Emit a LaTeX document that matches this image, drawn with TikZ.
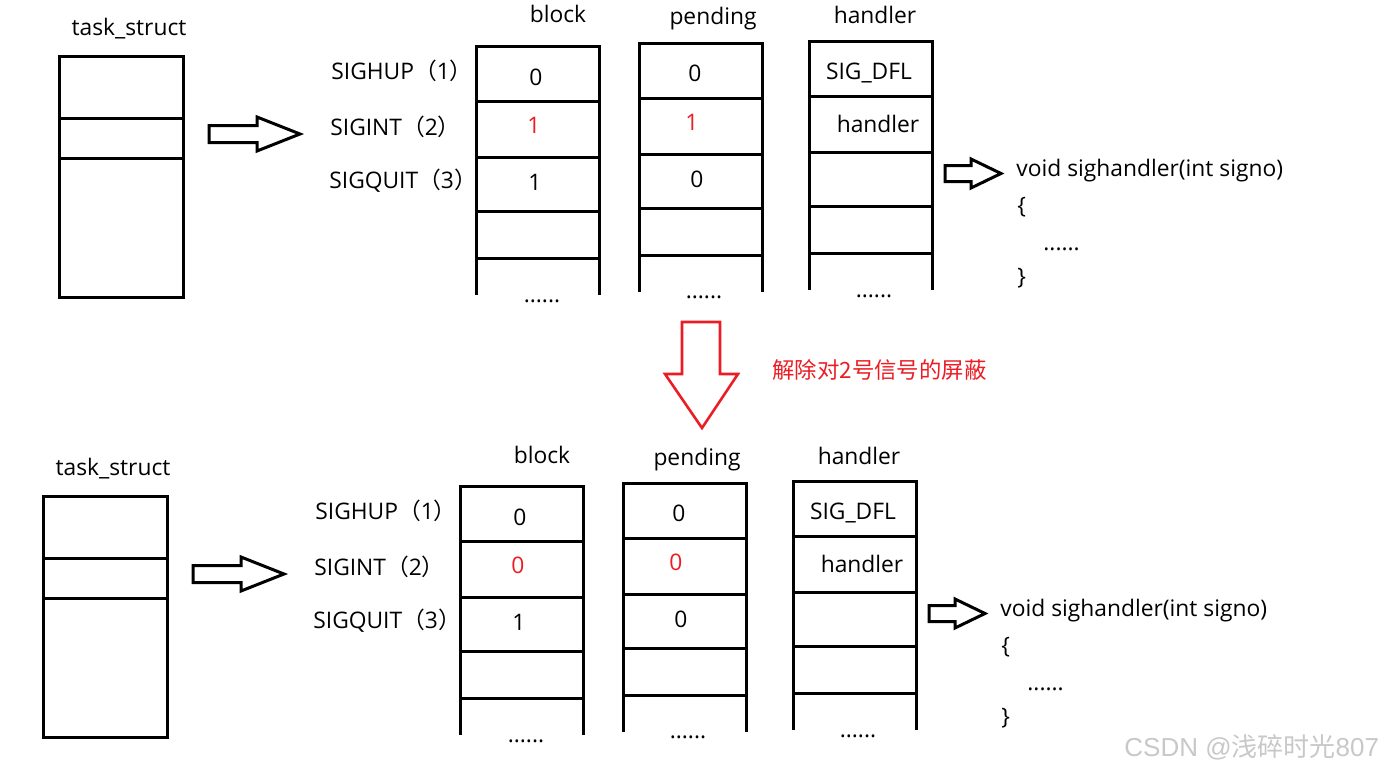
\documentclass[tikz,border=0pt]{standalone}
\usepackage{fontspec}
\setmainfont{Open Sans}
\newfontfamily\cjk{Noto Sans CJK SC}
\newfontfamily\wmfont{Liberation Sans}
\usetikzlibrary{positioning}
\definecolor{sigred}{RGB}{236,28,36}
\definecolor{wmgray}{RGB}{200,200,200}

\newcommand\SigPanel[4]{%
  \begin{scope}[shift={(#2)}]
    \node[lbl, anchor=base] (#1tsname) at (129,35) {task\_struct};
    \draw[box] (59,56) rectangle (183,297);
    \draw[box] (59,118) -- (183,118) (59,158) -- (183,158);
    \draw[hollow] (209,125.5) -- (257,125.5) -- (257,117) -- (300,134) -- (257,151) -- (257,142.5) -- (209,142.5) -- cycle;
    \node[lbl, anchor=base west] (#1hup) at (331,79) {SIGHUP{\cjk （}1{\cjk ）}};
    \node[lbl, anchor=base west] (#1int) at (330,135) {SIGINT{\cjk （}2{\cjk ）}};
    \node[lbl, anchor=base west] (#1quit) at (329,188) {SIGQUIT{\cjk （}3{\cjk ）}};
    \foreach \name/\x/\y in {blk/476/46, pnd/639/43, hdl/809/41} {
      \draw[box] (\x,\y+247) -- (\x,\y) -- (\x+123,\y) -- (\x+123,\y+247);
      \foreach \r in {55,111,165,212}
        \draw[box] (\x,\y+\r) -- (\x+123,\y+\r);
    }
    \node[lbl, anchor=base] (#1blkttl) at (558,23) {block};
    \node[lbl, anchor=base] (#1pndttl) at (713,25) {pending};
    \node[lbl, anchor=base] (#1hdlttl) at (875,24) {handler};
    \node[lbl, anchor=base] (#1blk1) at (536,85) {0};
    \node[lbl, anchor=base, text=sigred] (#1blk2) at (534,133) {#3};
    \node[lbl, anchor=base] (#1blk3) at (535,190) {1};
    \node[lbl, anchor=base] (#1pnd1) at (695,81) {0};
    \node[lbl, anchor=base, text=sigred] (#1pnd2) at (692,130) {#4};
    \node[lbl, anchor=base] (#1pnd3) at (697,187) {0};
    \node[lbl, anchor=base] (#1hdl1) at (869,79) {SIG\_DFL};
    \node[lbl, anchor=base] (#1hdl2) at (878,132) {handler};
    \node[lbl, anchor=base] (#1blkdots) at (542,302) {......};
    \node[lbl, anchor=base] (#1pnddots) at (704,298) {......};
    \node[lbl, anchor=base] (#1hdldots) at (874,297) {......};
    \draw[hollow] (945,165.5) -- (971,165.5) -- (971,159) -- (1001,173.5) -- (971,188) -- (971,181.5) -- (945,181.5) -- cycle;
    \node[lbl, anchor=base west] (#1code) at (1016,176) {void sighandler(int signo)};
    \node[lbl, anchor=base west] (#1open) at (1017,213) {\{};
    \node[lbl, anchor=base west] (#1body) at (1043,250) {......};
    \node[lbl, anchor=base west] (#1close) at (1017,284) {\}};
  \end{scope}}

\begin{document}
\begin{tikzpicture}[x=0.5pt, y=-0.5pt,
    lbl/.style={font=\fontsize{11.4}{13}\selectfont, inner sep=0pt},
    box/.style={line width=1.5pt, line cap=rect},
    hollow/.style={line width=1.5pt, line join=miter}]
  \useasboundingbox (0,0) rectangle (1383,771);
  \SigPanel{t}{0,0}{1}{1}
  \SigPanel{b}{-16,440}{0}{0}
  \draw[sigred, line width=1.3pt] (682,322) -- (720,322) -- (720,374) -- (738,374) -- (702,428) -- (665,374) -- (682,374) -- cycle;
  \node[anchor=west, inner sep=0pt, text=sigred, font=\cjk\fontsize{11.2}{14}\selectfont] (unblock) at (772,370) {解除对2号信号的屏蔽};
  \node[anchor=west, inner sep=0pt, text=wmgray, font=\wmfont\fontsize{13}{15}\selectfont] (mark) at (1124,747) {CSDN @{\cjk 浅碎时光}807};
\end{tikzpicture}
\end{document}
